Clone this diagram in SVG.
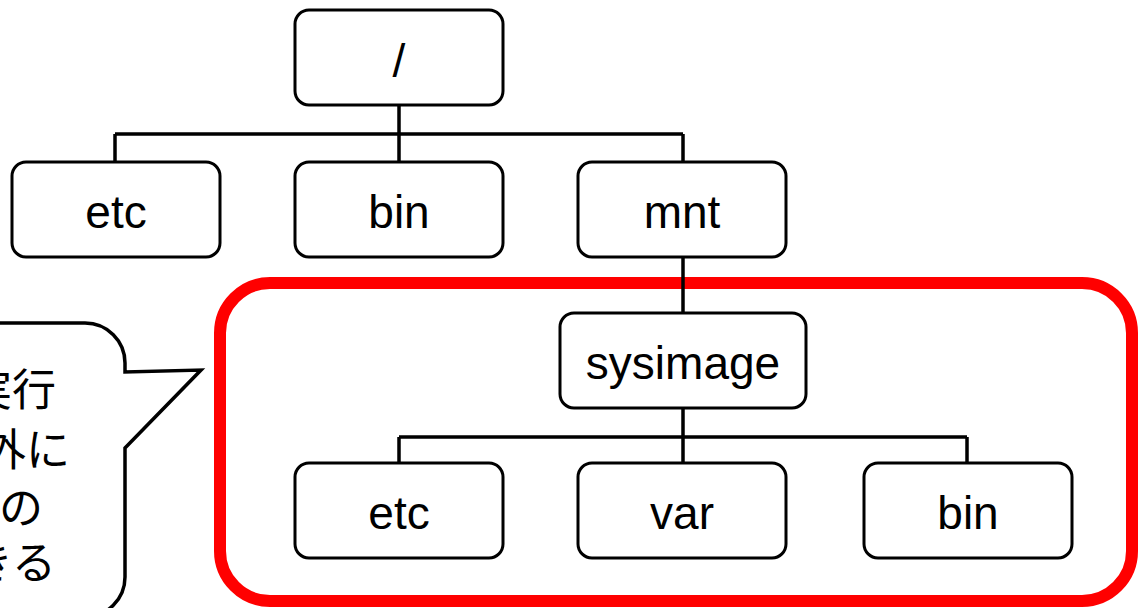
<svg xmlns="http://www.w3.org/2000/svg" width="1138" height="608" viewBox="0 0 1138 608">
<style>
.box{fill:#fff;stroke:#000;stroke-width:3}
.lbl{font-family:"Liberation Sans",Arial,sans-serif;font-size:46px;fill:#000;text-anchor:middle}
.conn{fill:none;stroke:#000;stroke-width:3.5}
.jp{font-family:"Noto Sans CJK JP","Noto Sans",sans-serif;font-size:44px;fill:#000;text-anchor:end}
</style>
<rect width="1138" height="608" fill="#fff"/>
<g id="callout">
<path d="M-60,323 H85 A40,40 0 0 1 125,363 V372 L201,370 L125,448 V577 A40,40 0 0 1 85,617 H-60 Z" fill="#fff" stroke="#000" stroke-width="3.5"/>
<text class="jp" x="56" y="406">実行</text>
<text class="jp" x="70" y="466">外に</text>
<text class="jp" x="43" y="524">の</text>
<text class="jp" x="56" y="579">きる</text>
</g>
<g id="highlight">
<rect x="220" y="283" width="912" height="318" rx="50" ry="50" fill="none" stroke="#ff0000" stroke-width="12"/>
</g>
<g id="connectors">
<path class="conn" d="M399,105 V134 M115,134 H683 M115,134 V162 M399,134 V162 M683,134 V162"/>
<path class="conn" d="M683,257 V313"/>
<path class="conn" d="M683,408 V437 M399,437 H967 M399,437 V463 M683,437 V463 M967,437 V463"/>
</g>
<g id="node-root"><rect class="box" x="295" y="10" width="208" height="95" rx="14"/><text class="lbl" x="399" y="77">/</text></g>
<g id="node-etc"><rect class="box" x="12" y="162" width="208" height="95" rx="14"/><text class="lbl" x="116" y="228">etc</text></g>
<g id="node-bin"><rect class="box" x="295" y="162" width="208" height="95" rx="14"/><text class="lbl" x="399" y="228">bin</text></g>
<g id="node-mnt"><rect class="box" x="578" y="162" width="208" height="95" rx="14"/><text class="lbl" x="682" y="228">mnt</text></g>
<g id="node-sysimage"><rect class="box" x="560" y="313" width="246" height="95" rx="14"/><text class="lbl" x="683" y="379">sysimage</text></g>
<g id="node-sys-etc"><rect class="box" x="295" y="463" width="208" height="95" rx="14"/><text class="lbl" x="399" y="529">etc</text></g>
<g id="node-sys-var"><rect class="box" x="578" y="463" width="208" height="95" rx="14"/><text class="lbl" x="682" y="529">var</text></g>
<g id="node-sys-bin"><rect class="box" x="864" y="463" width="208" height="95" rx="14"/><text class="lbl" x="968" y="529">bin</text></g>
</svg>
